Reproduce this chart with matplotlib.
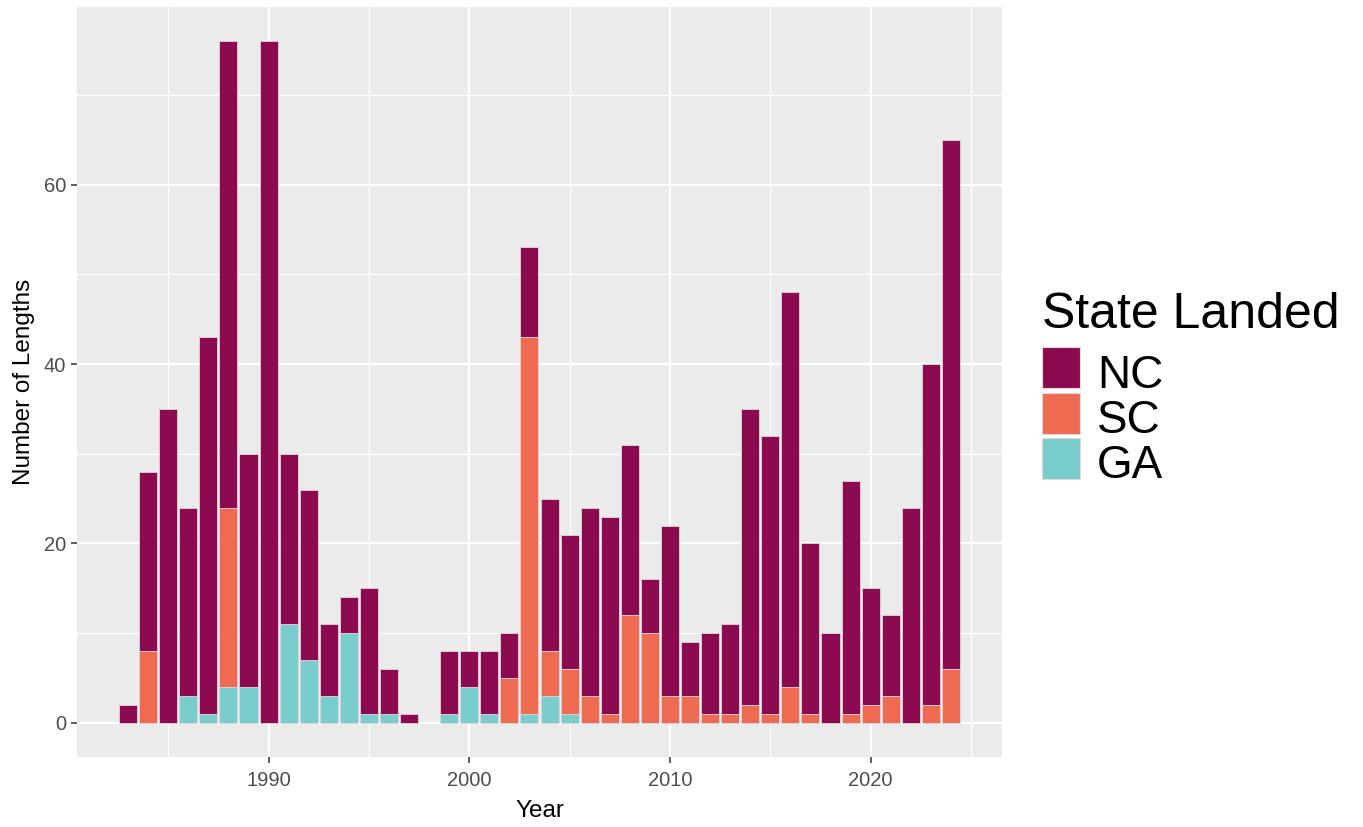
import matplotlib.pyplot as plt
import numpy as np
from matplotlib.patches import Rectangle

plt.rcParams['font.family'] = ['Liberation Sans', 'DejaVu Sans']

# counts of lengths by year and state (1998 has none)
years = [1983, 1984, 1985, 1986, 1987, 1988, 1989, 1990, 1991, 1992, 1993,
         1994, 1995, 1996, 1997, 1999, 2000, 2001, 2002, 2003, 2004, 2005,
         2006, 2007, 2008, 2009, 2010, 2011, 2012, 2013, 2014, 2015, 2016,
         2017, 2018, 2019, 2020, 2021, 2022, 2023, 2024]
nc = [2, 20, 35, 21, 42, 52, 26, 76, 19, 19, 8,
      4, 14, 5, 1, 7, 4, 7, 5, 10, 17, 15,
      21, 22, 19, 6, 19, 6, 9, 10, 33, 31, 44,
      19, 10, 26, 13, 9, 24, 38, 59]
sc = [0, 8, 0, 0, 0, 20, 0, 0, 0, 0, 0,
      0, 0, 0, 0, 0, 0, 0, 5, 42, 5, 5,
      3, 1, 12, 10, 3, 3, 1, 1, 2, 1, 4,
      1, 0, 1, 2, 3, 0, 2, 6]
ga = [0, 0, 0, 3, 1, 4, 4, 0, 11, 7, 3,
      10, 1, 1, 0, 1, 4, 1, 0, 1, 3, 1,
      0, 0, 0, 0, 0, 0, 0, 0, 0, 0, 0,
      0, 0, 0, 0, 0, 0, 0, 0]

states = ['NC', 'SC', 'GA']
colors = {'NC': '#8B0A50', 'SC': '#EE6A50', 'GA': '#79CDCD'}

W, H = 1363, 827
fig = plt.figure(figsize=(W / 100, H / 100), dpi=100)
ax = fig.add_axes([77 / W, (H - 757) / H, (1002 - 77) / W, (757 - 7) / H])

yr = np.array(years)
stack = {'GA': np.array(ga), 'SC': np.array(sc), 'NC': np.array(nc)}
bottom = np.zeros(len(years))
for st in ['GA', 'SC', 'NC']:
    vals = stack[st]
    m = vals > 0
    ax.bar(yr[m], vals[m], bottom=bottom[m], width=0.9, color=colors[st],
           edgecolor='#E0D6DC', linewidth=0.6, zorder=3)
    bottom = bottom + vals

ax.set_facecolor('#EBEBEB')
for s in ax.spines.values():
    s.set_visible(False)
ax.set_xlim(1980.455, 2026.545)
ax.set_ylim(-3.8, 79.8)
ax.set_xticks([1990, 2000, 2010, 2020])
ax.set_xticks([1985, 1995, 2005, 2015, 2025], minor=True)
ax.set_yticks([0, 20, 40, 60])
ax.set_yticks([10, 30, 50, 70], minor=True)
ax.grid(which='major', color='white', linewidth=1.6, zorder=0)
ax.grid(which='minor', color='white', linewidth=0.8, zorder=0)
ax.set_axisbelow(True)
ax.tick_params(which='major', length=4, width=1.1, color='#333333',
               labelcolor='#4D4D4D', labelsize=14.5, pad=4)
ax.tick_params(axis='x', which='major', pad=6)
ax.tick_params(which='minor', length=0)
ax.set_xlabel('Year', fontsize=17.5, color='black', labelpad=7)
ax.set_ylabel('Number of Lengths', fontsize=17.5, color='black', labelpad=6)

# legend drawn by hand to match the big keys
fig.text(1042 / W, 1 - 328 / H, 'State Landed', fontsize=36,
         va='baseline', ha='left')
for i, st in enumerate(states):
    top = 347 + i * 45.5
    fig.patches.append(Rectangle((1042 / W, 1 - (top + 41) / H), 38 / W, 41 / H,
                                 transform=fig.transFigure, facecolor=colors[st],
                                 edgecolor='#E0D6DC', linewidth=0.8))
    fig.text(1097 / W, 1 - (388 + i * 45) / H, st, fontsize=33,
             va='baseline', ha='left')

fig.savefig('out.png', dpi=100)
